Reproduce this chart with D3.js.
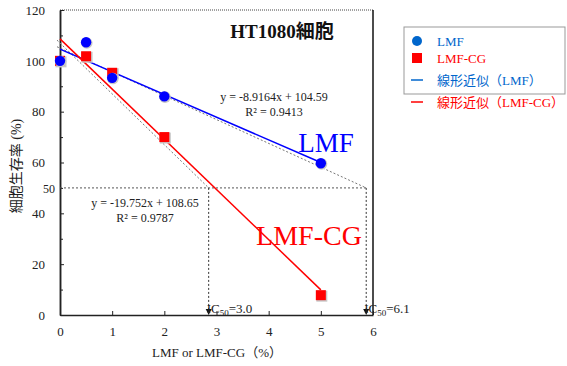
<!DOCTYPE html>
<html>
<head>
<meta charset="utf-8">
<script src="https://cdn.jsdelivr.net/npm/d3@7"></script>
<style>
  body { margin: 0; background: #fff; }
  svg { display: block; }
  svg text { font-family: "Liberation Serif", "DejaVu Serif", "Noto Sans CJK JP", serif; }
</style>
</head>
<body>
<div id="chart"></div>
<script>
// measured values
const doses = [0, 0.5, 1, 2, 5];
const lmf = [100, 107.3, 93.3, 86, 59.7];
const lmfCg = [100, 101.8, 95.3, 70, 7.8];

// linear fits shown on the chart
const fitLmf = {slope: -8.9164, intercept: 104.59, r2: 0.9413, to: 5};
const fitLmfCg = {slope: -19.752, intercept: 108.65, r2: 0.9787, to: 5};

// hand-drawn IC50 guides: start y at x=0, and x where each hits 50
const guideStarts = [105, 107];
const ic50At = [5.87, 2.85];
const ic50Labels = ['6.1', '3.0'];

const xTicks = [0, 1, 2, 3, 4, 5, 6];
const yTicks = [0, 20, 40, 60, 80, 100, 120];
const yMinor = [10, 30, 50, 70, 90, 110];

const width = 567, height = 366;
const blue = '#0000ff', red = '#ff0000', legendBlue = '#0066cc';

const svg = d3.select('#chart').append('svg')
    .attr('width', width)
    .attr('height', height);

const x = d3.scaleLinear().domain([0, 6]).range([60, 373]);
const y = d3.scaleLinear().domain([0, 120]).range([315, 10]);

// frame: dotted top, solid right
svg.append('line')
    .attr('x1', x(0)).attr('x2', x(6)).attr('y1', y(120)).attr('y2', y(120))
    .attr('stroke', '#444').attr('stroke-dasharray', '1,1');
svg.append('line')
    .attr('x1', x(6)).attr('x2', x(6)).attr('y1', y(120)).attr('y2', y(0))
    .attr('stroke', '#111').attr('stroke-width', 1.5);

// axes
svg.append('g')
    .attr('transform', `translate(${x(0)},0)`)
    .call(d3.axisLeft(y).tickValues(yTicks).tickSizeInner(-4).tickSizeOuter(0).tickPadding(15));
svg.append('g')
    .attr('transform', `translate(${x(0)},0)`)
    .call(d3.axisLeft(y).tickValues(yMinor).tickSizeInner(-3).tickSizeOuter(0).tickFormat(''));
svg.append('g')
    .attr('transform', `translate(0,${y(0)})`)
    .call(d3.axisBottom(x).tickValues(xTicks).tickFormat(d3.format('d'))
      .tickSizeInner(-4).tickSizeOuter(0).tickPadding(12));

svg.selectAll('.domain').attr('stroke', '#222').attr('stroke-width', 1.5);
svg.selectAll('.tick line').attr('stroke', '#222');
svg.selectAll('.tick text')
    .attr('font-size', 13)
    .attr('fill', '#222');

// extra "50" label on the y axis
svg.append('text')
    .attr('x', x(0) - 5).attr('y', y(50) + 5)
    .attr('text-anchor', 'end').attr('font-size', 12).attr('fill', '#222')
    .text('50');

// dashed guides
const dash = '2,2';
svg.append('line')
    .attr('x1', x(0)).attr('y1', y(50))
    .attr('x2', x(d3.max(ic50At))).attr('y2', y(50))
    .attr('stroke', '#555').attr('stroke-dasharray', dash);

guideStarts.forEach((start, i) => {
  svg.append('line')
      .attr('x1', x(0) - 3).attr('y1', y(start + (start - 50) / ic50At[i] * 3 / (x(1) - x(0))))
      .attr('x2', x(ic50At[i])).attr('y2', y(50))
      .attr('stroke', '#777').attr('stroke-dasharray', dash);
  svg.append('line')
      .attr('x1', x(ic50At[i])).attr('x2', x(ic50At[i]))
      .attr('y1', y(50)).attr('y2', y(0) - 5)
      .attr('stroke', '#333').attr('stroke-dasharray', dash);
  svg.append('path')
      .attr('d', `M${x(ic50At[i]) - 3},${y(0) - 6}L${x(ic50At[i]) + 3},${y(0) - 6}L${x(ic50At[i])},${y(0)}Z`)
      .attr('fill', '#111');
  const t = svg.append('text')
      .attr('x', x(ic50At[i]) - 2).attr('y', y(0) - 2)
      .attr('font-size', 13).attr('fill', '#222');
  t.append('tspan').text('IC');
  t.append('tspan').attr('font-size', 9).attr('dy', 3).text('50');
  t.append('tspan').attr('dy', -3).text('=' + ic50Labels[i]);
});

// fit lines
const line = d3.line().x(d => x(d[0])).y(d => y(d[1]));
[[fitLmf, blue], [fitLmfCg, red]].forEach(([f, color]) => {
  svg.append('path')
      .attr('d', line([[0, f.intercept], [f.to, f.intercept + f.slope * f.to]]))
      .attr('fill', 'none').attr('stroke', color).attr('stroke-width', 1.5);
});

// markers with soft gray shadow
const lmfPts = doses.map((d, i) => [d, lmf[i]]);
const cgPts = doses.map((d, i) => [d, lmfCg[i]]);

svg.append('g').selectAll('rect').data(cgPts).join('rect')
    .attr('x', d => x(d[0]) - 4.5).attr('y', d => y(d[1]) - 4.5)
    .attr('width', 11).attr('height', 11).attr('fill', '#c8c8c8');
svg.append('g').selectAll('rect').data(cgPts).join('rect')
    .attr('x', d => x(d[0]) - 5).attr('y', d => y(d[1]) - 5)
    .attr('width', 10).attr('height', 10).attr('fill', red);

svg.append('g').selectAll('circle').data(lmfPts).join('circle')
    .attr('cx', d => x(d[0]) + 0.7).attr('cy', d => y(d[1]) + 0.7)
    .attr('r', 5.8).attr('fill', '#c8c8c8');
svg.append('g').selectAll('circle').data(lmfPts).join('circle')
    .attr('cx', d => x(d[0])).attr('cy', d => y(d[1]))
    .attr('r', 5.2).attr('fill', blue);

// annotations
const fmt = f => `y = ${f.slope}x + ${f.intercept}`;
svg.append('text')
    .attr('x', 282).attr('y', 38).attr('text-anchor', 'middle')
    .attr('font-size', 19).attr('font-weight', 'bold').attr('fill', '#111')
    .text('HT1080細胞');

[[fitLmf, 274, 101], [fitLmfCg, 145, 207]].forEach(([f, cx, cy]) => {
  svg.append('text')
      .attr('x', cx).attr('y', cy).attr('text-anchor', 'middle')
      .attr('font-size', 12).attr('fill', '#222')
      .text(fmt(f));
  svg.append('text')
      .attr('x', cx).attr('y', cy + 15).attr('text-anchor', 'middle')
      .attr('font-size', 12).attr('fill', '#222')
      .text(`R² = ${f.r2}`);
});

svg.append('text')
    .attr('x', 326).attr('y', 152).attr('text-anchor', 'middle')
    .attr('font-size', 27).attr('fill', blue)
    .text('LMF');
svg.append('text')
    .attr('x', 309).attr('y', 245).attr('text-anchor', 'middle')
    .attr('font-size', 28).attr('fill', red)
    .text('LMF-CG');

// axis titles
svg.append('text')
    .attr('x', 217).attr('y', 357).attr('text-anchor', 'middle')
    .attr('font-size', 13).attr('fill', '#222')
    .text('LMF or LMF-CG（%）');
svg.append('text')
    .attr('transform', 'translate(21,166) rotate(-90)')
    .attr('text-anchor', 'middle')
    .attr('font-size', 14).attr('fill', '#222')
    .text('細胞生存率 (%)');

// legend
svg.append('rect')
    .attr('x', 404).attr('y', 27).attr('width', 161).attr('height', 67)
    .attr('fill', '#fff').attr('stroke', '#999');

const legendItems = [
  {label: 'LMF', type: 'circle', color: legendBlue, y: 41},
  {label: 'LMF-CG', type: 'square', color: red, y: 58},
  {label: '線形近似（LMF）', type: 'line', color: legendBlue, y: 80},
  {label: '線形近似（LMF-CG）', type: 'line', color: red, y: 102},
];
const lg = svg.append('g').selectAll('g').data(legendItems).join('g')
    .attr('transform', d => `translate(0,${d.y})`);
lg.filter(d => d.type === 'circle').append('circle')
    .attr('cx', 417).attr('r', 5).attr('fill', d => d.color);
lg.filter(d => d.type === 'square').append('rect')
    .attr('x', 412).attr('y', -5).attr('width', 10).attr('height', 10).attr('fill', d => d.color);
lg.filter(d => d.type === 'line').append('line')
    .attr('x1', 411).attr('x2', 423).attr('stroke', d => d.color).attr('stroke-width', 1.5);
lg.append('text')
    .attr('x', 437).attr('y', 4.5)
    .attr('font-size', 13).attr('fill', d => d.color)
    .text(d => d.label);
</script>
</body>
</html>
